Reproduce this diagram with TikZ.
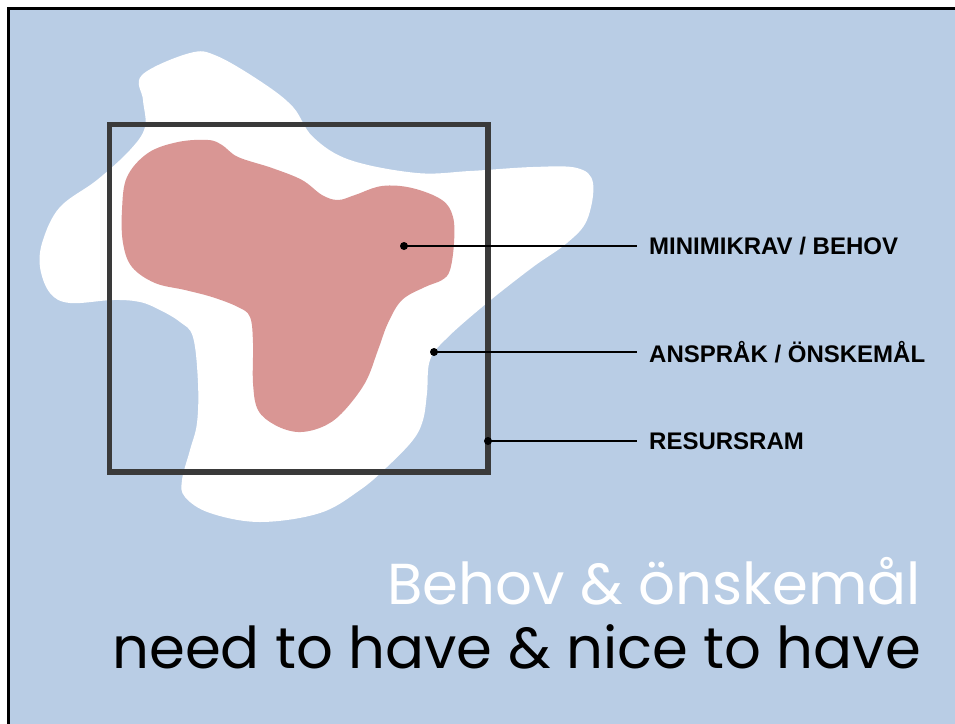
\documentclass[tikz,border=0pt]{standalone}
\usepackage{fontspec}
\setmainfont{Liberation Sans}
\newfontfamily\titlefont{Poppins}
\usepackage{tikz}
\usetikzlibrary{positioning}

\definecolor{skyBg}{RGB}{185,205,229}
\definecolor{needRose}{RGB}{217,150,148}
\definecolor{frameGray}{RGB}{58,58,58}

\begin{document}
\begin{tikzpicture}[
      x=1pt, y=-1pt,
      dotMark/.style={circle, fill=black, inner sep=0pt, minimum size=8pt},
      tagLabel/.style={anchor=west, inner xsep=12pt, inner ysep=0pt,
        font=\fontsize{24}{28}\selectfont\bfseries},
      leader/.style={draw=black, line width=1.3pt},
      blob/.style={smooth cycle, tension=0.6}
    ]

      % ---------- Bakgrund ----------
      \clip (0,0) rectangle (955,723);
      \draw[fill=skyBg, draw=black, line width=3pt] (8,8) rectangle (970,740);

      % ---------- Anspråk / önskemål (vit yta) ----------
      \fill[white] plot[blob] coordinates {
        (142,75) (190,53) (217,56) (263,83) (293,107) (313,137) (350,160)
        (417,173) (470,171) (533,167) (577,168) (593,183) (587,220) (567,243)
        (533,267) (487,303) (447,338) (430,360) (427,393) (423,420) (413,440)
        (387,467) (360,490) (320,513) (260,522) (210,513) (185,497) (182,480)
        (190,450) (197,423) (198,383) (193,337) (180,322) (160,310) (140,302)
        (113,300) (70,303) (50,293) (40,267) (43,240) (60,207) (97,180)
        (130,150) (145,127) (143,100)};

      % ---------- Minimikrav / behov (rosa yta) ----------
      \fill[needRose] plot[blob] coordinates {
        (148,153) (178,142) (208,140) (222,145) (238,157) (272,168) (302,180)
        (322,195) (338,200) (355,195) (382,186) (412,188) (442,200) (453,217)
        (454,243) (450,270) (442,280) (425,287) (402,300) (388,323) (378,350)
        (365,383) (342,413) (322,427) (298,432) (275,425) (258,410) (253,383)
        (253,343) (250,317) (238,307) (212,297) (185,290) (155,283) (132,267)
        (123,243) (122,210) (127,177)};

      % ---------- Resursram ----------
      \draw[frameGray, line width=5.5pt] (109.5,124.5) rectangle (488,472);

      % ---------- Etiketter ----------
      \node[dotMark] (needDot) at (404,246) {};
      \node[dotMark] (wishDot) at (434,352) {};
      \node[dotMark] (frameDot) at (488,441) {};

      \node[tagLabel] (needLbl) at (637,246) {MINIMIKRAV / BEHOV};
      \node[tagLabel] (wishLbl) at (637,352) {ANSPRÅK / ÖNSKEMÅL};
      \node[tagLabel] (frameLbl) at (637,441) {RESURSRAM};

      \draw[leader] (needDot.center) -- (needLbl.west);
      \draw[leader] (wishDot.center) -- (wishLbl.west);
      \draw[leader] (frameDot.center) -- (frameLbl.west);

      % ---------- Rubrik ----------
      \node[anchor=base east, inner sep=0pt, text=white] (titleSv) at (921,604)
        {\resizebox{533pt}{!}{\titlefont Behov \& önskemål}};
      \node[anchor=base east, inner sep=0pt, text=black] (titleEn) at (921,668)
        {\resizebox{808pt}{!}{\titlefont need to have \& nice to have}};

    \end{tikzpicture}
\end{document}
